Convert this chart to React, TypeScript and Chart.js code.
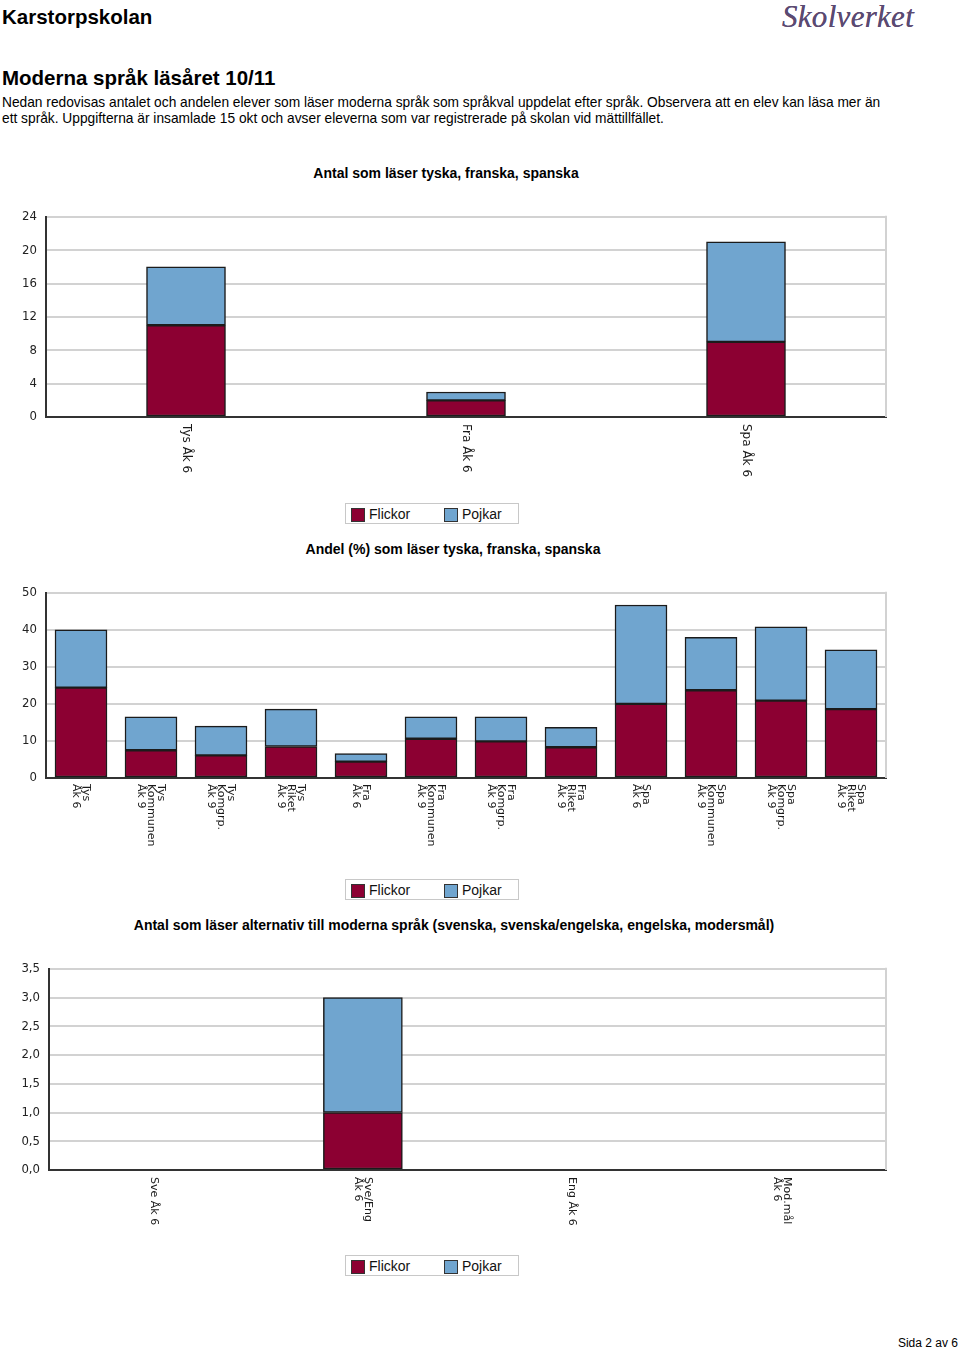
import React, { useEffect, useRef } from "react";
import { Chart, registerables } from "chart.js";

Chart.register(...registerables);

// ---------- data ----------
const seriesNames = ["Flickor", "Pojkar"];
const seriesColors = ["#8c0032", "#70a5cf"];

const countCategories: (string | string[])[] = ["Tys Åk 6", "Fra Åk 6", "Spa Åk 6"];
const countGirls = [11, 2, 9];
const countBoys = [7, 1, 12];
const countTicks = [0, 4, 8, 12, 16, 20, 24];

const shareCategories: (string | string[])[] = [
  ["Tys", "Åk 6"],
  ["Tys", "Kommunen", "Åk 9"],
  ["Tys", "Komgrp.", "Åk 9"],
  ["Tys", "Riket", "Åk 9"],
  ["Fra", "Åk 6"],
  ["Fra", "Kommunen", "Åk 9"],
  ["Fra", "Komgrp.", "Åk 9"],
  ["Fra", "Riket", "Åk 9"],
  ["Spa", "Åk 6"],
  ["Spa", "Kommunen", "Åk 9"],
  ["Spa", "Komgrp.", "Åk 9"],
  ["Spa", "Riket", "Åk 9"],
];
const shareGirls = [24.4, 7.5, 6.1, 8.5, 4.4, 10.6, 9.9, 8.3, 20.0, 23.7, 20.9, 18.6];
const shareBoys = [15.6, 9.0, 7.9, 10.1, 2.2, 5.9, 6.6, 5.4, 26.7, 14.3, 19.9, 16.0];
const shareTicks = [0, 10, 20, 30, 40, 50];

const altCategories: (string | string[])[] = ["Sve Åk 6", ["Sve/Eng", "Åk 6"], "Eng Åk 6", ["Mod.mål", "Åk 6"]];
const altGirls = [0, 1, 0, 0];
const altBoys = [0, 2, 0, 0];
const altTicks = [0, 0.5, 1.0, 1.5, 2.0, 2.5, 3.0, 3.5];

const chartTitles = [
  "Antal som läser tyska, franska, spanska",
  "Andel (%) som läser tyska, franska, spanska",
  "Antal som läser alternativ till moderna språk (svenska, svenska/engelska, engelska, modersmål)",
];

const SANS = '"Liberation Sans", Arial, sans-serif';
const TICK_FONT = '"DejaVu Sans Condensed", "DejaVu Sans", sans-serif';

const rotatedLabels = {
  id: "rotatedLabels",
  beforeDatasetsDraw(chart: any) {
    const { ctx, chartArea } = chart;
    ctx.save();
    ctx.strokeStyle = "#d2d2d2";
    ctx.lineWidth = 2;
    ctx.beginPath();
    ctx.moveTo(chartArea.right, chartArea.top - 1);
    ctx.lineTo(chartArea.right, chartArea.bottom);
    ctx.stroke();
    ctx.restore();
  },
  afterDraw(chart: any, _args: any, opts: any) {
    const { ctx } = chart;
    const xs = chart.scales.x;
    ctx.save();
    ctx.fillStyle = "#1a1a1a";
    ctx.font = opts.font;
    ctx.textAlign = "left";
    ctx.textBaseline = "middle";
    (chart.data.labels as any[]).forEach((lab, i) => {
      const lines: string[] = Array.isArray(lab) ? lab : [lab];
      const x = xs.getPixelForTick(i);
      ctx.save();
      ctx.translate(x, xs.top + opts.gap);
      ctx.rotate(Math.PI / 2);
      lines.forEach((ln, k) => {
        ctx.fillText(ln, 0, (k - (lines.length - 1) / 2) * opts.lineHeight);
      });
      ctx.restore();
    });
    ctx.restore();
  },
};

type BlockProps = {
  top: number;
  height: number;
  categories: (string | string[])[];
  girls: number[];
  boys: number[];
  ticks: number[];
  fmt: (v: number) => string;
  plotLeft: number;
  plotTop: number;
  plotBottom: number;
  plotRight: number;
  barThickness: number;
  labelFont: string;
  lineHeight: number;
  gap: number;
};

function ChartBlock(p: BlockProps) {
  const ref = useRef<HTMLCanvasElement>(null);
  useEffect(() => {
    if (!ref.current) return;
    const xHeight = p.top + p.height - p.plotBottom;
    const chart = new Chart(ref.current, {
      type: "bar",
      data: {
        labels: p.categories as any,
        datasets: [
          {
            label: seriesNames[0],
            data: p.girls,
            backgroundColor: seriesColors[0],
            borderColor: "#1b1b1b",
            borderWidth: 1.5,
            borderSkipped: false,
            barThickness: p.barThickness,
          },
          {
            label: seriesNames[1],
            data: p.boys,
            backgroundColor: seriesColors[1],
            borderColor: "#1b1b1b",
            borderWidth: 1.5,
            borderSkipped: false,
            barThickness: p.barThickness,
          },
        ],
      },
      options: {
        responsive: false,
        animation: false,
        layout: {
          padding: { top: p.plotTop - p.top, right: 960 - p.plotRight, bottom: 0, left: 0 },
        },
        plugins: {
          legend: { display: false },
          tooltip: { enabled: false },
          rotatedLabels: { font: p.labelFont, lineHeight: p.lineHeight, gap: p.gap },
        } as any,
        scales: {
          x: {
            stacked: true,
            grid: { display: false },
            ticks: { display: false },
            border: { color: "#333", width: 2 },
            afterFit: (s: any) => {
              s.height = xHeight;
            },
          },
          y: {
            stacked: true,
            min: p.ticks[0],
            max: p.ticks[p.ticks.length - 1],
            afterBuildTicks: (s: any) => {
              s.ticks = p.ticks.map((v) => ({ value: v }));
            },
            afterFit: (s: any) => {
              s.width = p.plotLeft;
            },
            grid: { color: "#d2d2d2", lineWidth: 2, drawTicks: false },
            border: { color: "#333", width: 2 },
            ticks: {
              padding: 9,
              color: "#222",
              font: { family: TICK_FONT, size: 13 },
              callback: (v: any) => p.fmt(Number(v)),
            },
          },
        },
      } as any,
      plugins: [rotatedLabels as any],
    });
    return () => chart.destroy();
  }, []);
  return (
    <canvas
      ref={ref}
      width={960}
      height={p.height}
      style={{ position: "absolute", left: 0, top: p.top, width: 960, height: p.height }}
    />
  );
}

function Legend({ top }: { top: number }) {
  const item = (i: number, left: number, textLeft: number) => (
    <>
      <div
        style={{
          position: "absolute",
          left,
          top: 4,
          width: 12,
          height: 12,
          background: seriesColors[i],
          border: "1px solid #333",
        }}
      />
      <div
        style={{
          position: "absolute",
          left: textLeft,
          top: 2,
          font: `14px ${SANS}`,
          lineHeight: "16px",
          color: "#111",
          whiteSpace: "nowrap",
        }}
      >
        {seriesNames[i]}
      </div>
    </>
  );
  return (
    <div
      style={{
        position: "absolute",
        left: 345,
        top,
        width: 174,
        height: 21,
        boxSizing: "border-box",
        border: "1px solid #c8c8c8",
        background: "#fff",
      }}
    >
      {item(0, 5, 23)}
      {item(1, 98, 116)}
    </div>
  );
}

function Title({ text, center, top }: { text: string; center: number; top: number }) {
  return (
    <div
      style={{
        position: "absolute",
        left: center - 450,
        width: 900,
        top,
        textAlign: "center",
        font: `bold 14px ${SANS}`,
        lineHeight: "16px",
        color: "#000",
        whiteSpace: "nowrap",
      }}
    >
      {text}
    </div>
  );
}

export default function App() {
  const fmtInt = (v: number) => String(Math.round(v));
  const fmtDec = (v: number) => v.toFixed(1).replace(".", ",");
  return (
    <div
      style={{
        position: "absolute",
        left: 0,
        top: 0,
        width: 960,
        height: 1351,
        background: "#fff",
        overflow: "hidden",
        fontFamily: SANS,
      }}
    >
      <div style={{ position: "absolute", left: 2, top: 5, font: `bold 20.5px ${SANS}`, lineHeight: "24px" }}>
        Karstorpskolan
      </div>
      <div
        style={{
          position: "absolute",
          left: 782,
          top: -1,
          font: `italic 31px "Liberation Serif", "DejaVu Serif", serif`,
          lineHeight: "36px",
          color: "#5b4a72",
          letterSpacing: "0.3px",
          textShadow: "0 0 0.6px #5b4a72",
        }}
      >
        Skolverket
      </div>
      <div style={{ position: "absolute", left: 2, top: 66, font: `bold 20.5px ${SANS}`, lineHeight: "24px" }}>
        Moderna språk läsåret 10/11
      </div>
      <div
        style={{
          position: "absolute",
          left: 2,
          top: 95,
          font: `13.75px ${SANS}`,
          lineHeight: "15.5px",
          whiteSpace: "nowrap",
        }}
      >
        <div>
          Nedan redovisas antalet och andelen elever som läser moderna språk som språkval uppdelat efter språk. Observera att en elev kan läsa mer än
        </div>
        <div>ett språk. Uppgifterna är insamlade 15 okt och avser eleverna som var registrerade på skolan vid mättillfället.</div>
      </div>

      <Title text={chartTitles[0]} center={446} top={165} />
      <ChartBlock
        top={200}
        height={290}
        categories={countCategories}
        girls={countGirls}
        boys={countBoys}
        ticks={countTicks}
        fmt={fmtInt}
        plotLeft={46}
        plotTop={213}
        plotBottom={417}
        plotRight={886}
        barThickness={79}
        labelFont={`12px "DejaVu Sans", sans-serif`}
        lineHeight={10}
        gap={7}
      />
      <Legend top={503} />

      <Title text={chartTitles[1]} center={453} top={541} />
      <ChartBlock
        top={576}
        height={294}
        categories={shareCategories}
        girls={shareGirls}
        boys={shareBoys}
        ticks={shareTicks}
        fmt={fmtInt}
        plotLeft={46}
        plotTop={589}
        plotBottom={778}
        plotRight={886}
        barThickness={52}
        labelFont={`11px "DejaVu Sans", sans-serif`}
        lineHeight={10}
        gap={6}
      />
      <Legend top={879} />

      <Title text={chartTitles[2]} center={454} top={917} />
      <ChartBlock
        top={952}
        height={290}
        categories={altCategories}
        girls={altGirls}
        boys={altBoys}
        ticks={altTicks}
        fmt={fmtDec}
        plotLeft={49}
        plotTop={965}
        plotBottom={1170}
        plotRight={886}
        barThickness={79}
        labelFont={`11px "DejaVu Sans", sans-serif`}
        lineHeight={10}
        gap={7}
      />
      <Legend top={1255} />

      <div
        style={{
          position: "absolute",
          left: 858,
          width: 100,
          top: 1335,
          textAlign: "right",
          font: `12px ${SANS}`,
          lineHeight: "16px",
        }}
      >
        Sida 2 av 6
      </div>
    </div>
  );
}
